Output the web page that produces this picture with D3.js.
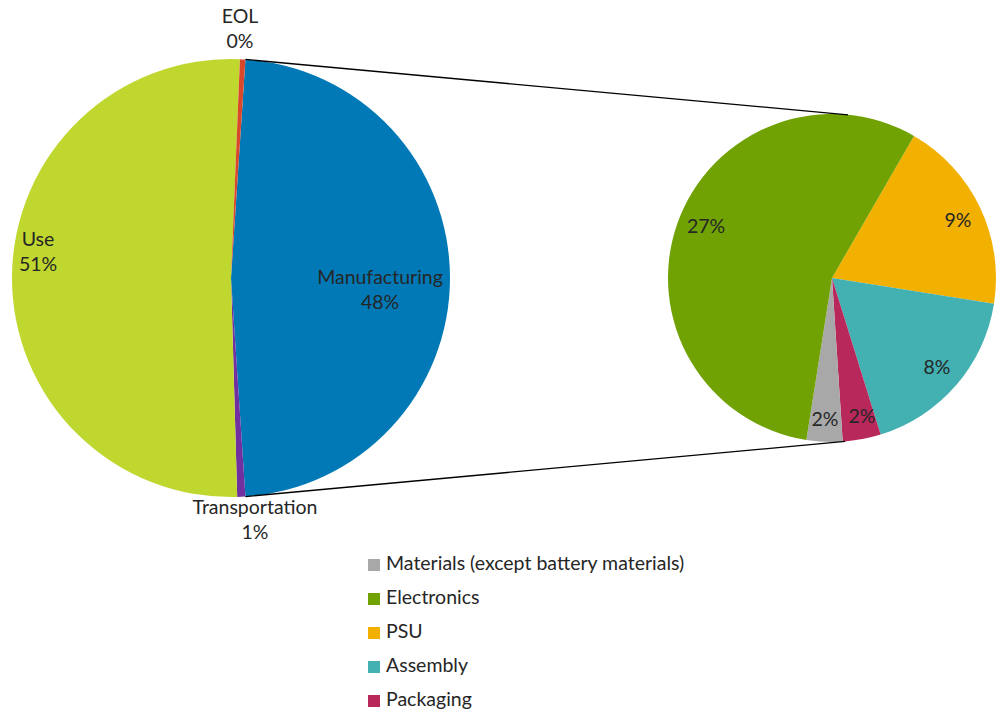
<!DOCTYPE html>
<html lang='en'>
<head>
<meta charset='utf-8'>
<title>Pie of pie</title>
<script src='https://d3js.org/d3.v7.min.js'></script>
<style>
  body { margin: 0; background: #fff; }
  text { font-family: Lato, 'Open Sans', sans-serif; fill: #262626; }
</style>
</head>
<body>
<script>
// main pie (share of total, %)
var mainNames = ['Manufacturing', 'Transportation', 'Use', 'EOL'];
var mainValues = [47.9, 0.6, 51.1, 0.4];
var mainLabels = ['48%', '1%', '51%', '0%'];
var mainColors = ['#0079b6', '#7030a0', '#c0d72f', '#d9482b'];

// breakdown of manufacturing (%)
var subNames = ['PSU', 'Assembly', 'Packaging', 'Materials (except battery materials)', 'Electronics'];
var subValues = [9.2, 8.5, 1.8, 1.7, 26.8];
var subLabels = ['9%', '8%', '2%', '2%', '27%'];
var subColors = ['#f2b000', '#43b0b2', '#b8285b', '#a8a8a8', '#70a204'];

var legendNames = ['Materials (except battery materials)', 'Electronics', 'PSU', 'Assembly', 'Packaging'];

var w = 1001, h = 712;
var svg = d3.select('body').append('svg').attr('width', w).attr('height', h);

var rad = Math.PI / 180;

// left pie
var c1 = [231, 278], r1 = 219;
var manuStart = 90 * rad - mainValues[0] / 100 * Math.PI;
var pie1 = d3.pie().sort(null).startAngle(manuStart).endAngle(manuStart + 2 * Math.PI);
var arcs1 = pie1(mainValues);
var arc1 = d3.arc().innerRadius(0).outerRadius(r1);

var g1 = svg.append('g').attr('transform', 'translate(' + c1[0] + ',' + c1[1] + ')');
g1.selectAll('path').data(arcs1).enter().append('path')
  .attr('d', arc1)
  .attr('fill', function(d, i) { return mainColors[i]; });

// right pie
var c2 = [832, 278], r2 = 164;
var pie2 = d3.pie().sort(null).startAngle(30 * rad).endAngle(30 * rad + 2 * Math.PI);
var arcs2 = pie2(subValues);
var arc2 = d3.arc().innerRadius(0).outerRadius(r2);

var g2 = svg.append('g').attr('transform', 'translate(' + c2[0] + ',' + c2[1] + ')');
g2.selectAll('path').data(arcs2).enter().append('path')
  .attr('d', arc2)
  .attr('fill', function(d, i) { return subColors[i]; });

// connector lines
function pt(c, r, a) { return [c[0] + r * Math.sin(a), c[1] - r * Math.cos(a)]; }
var m = arcs1[0];
var lines = [
  [pt(c1, r1, m.startAngle), pt(c2, r2, 5.6 * rad)],
  [pt(c1, r1, m.endAngle), pt(c2, r2, 175.4 * rad)]
];
svg.selectAll('line.conn').data(lines).enter().append('line')
  .attr('class', 'conn')
  .attr('x1', function(d) { return d[0][0]; })
  .attr('y1', function(d) { return d[0][1]; })
  .attr('x2', function(d) { return d[1][0]; })
  .attr('y2', function(d) { return d[1][1]; })
  .attr('stroke', '#000')
  .attr('stroke-width', 1.3);

// labels left pie
var mainLabelPos = [[380, 279], [255, 509], [38, 241], [240, 18]];
var fs = 19.5;
mainNames.forEach(function(n, i) {
  var t = svg.append('text')
    .attr('x', mainLabelPos[i][0])
    .attr('y', mainLabelPos[i][1])
    .attr('text-anchor', 'middle')
    .attr('dominant-baseline', 'middle')
    .style('font-size', fs + 'px');
  t.append('tspan').attr('x', mainLabelPos[i][0]).text(n);
  t.append('tspan').attr('x', mainLabelPos[i][0]).attr('dy', 25).text(mainLabels[i]);
});

// labels right pie
var subLabelPos = [[958, 222], [937, 369], [862, 418], [825, 421], [706, 228]];
subLabels.forEach(function(l, i) {
  svg.append('text')
    .attr('x', subLabelPos[i][0])
    .attr('y', subLabelPos[i][1])
    .attr('text-anchor', 'middle')
    .attr('dominant-baseline', 'middle')
    .style('font-size', fs + 'px')
    .text(l);
});

// legend
var lg = svg.append('g').attr('transform', 'translate(368,565)');
var rows = lg.selectAll('g').data(legendNames).enter().append('g')
  .attr('transform', function(d, i) { return 'translate(0,' + i * 34 + ')'; });
rows.append('rect')
  .attr('x', 0).attr('y', -6).attr('width', 12).attr('height', 12)
  .attr('fill', function(d) { return subColors[subNames.indexOf(d)]; });
rows.append('text')
  .attr('x', 18).attr('y', 0)
  .attr('dominant-baseline', 'middle')
  .style('font-size', fs + 'px')
  .text(function(d) { return d; });
</script>
</body>
</html>
